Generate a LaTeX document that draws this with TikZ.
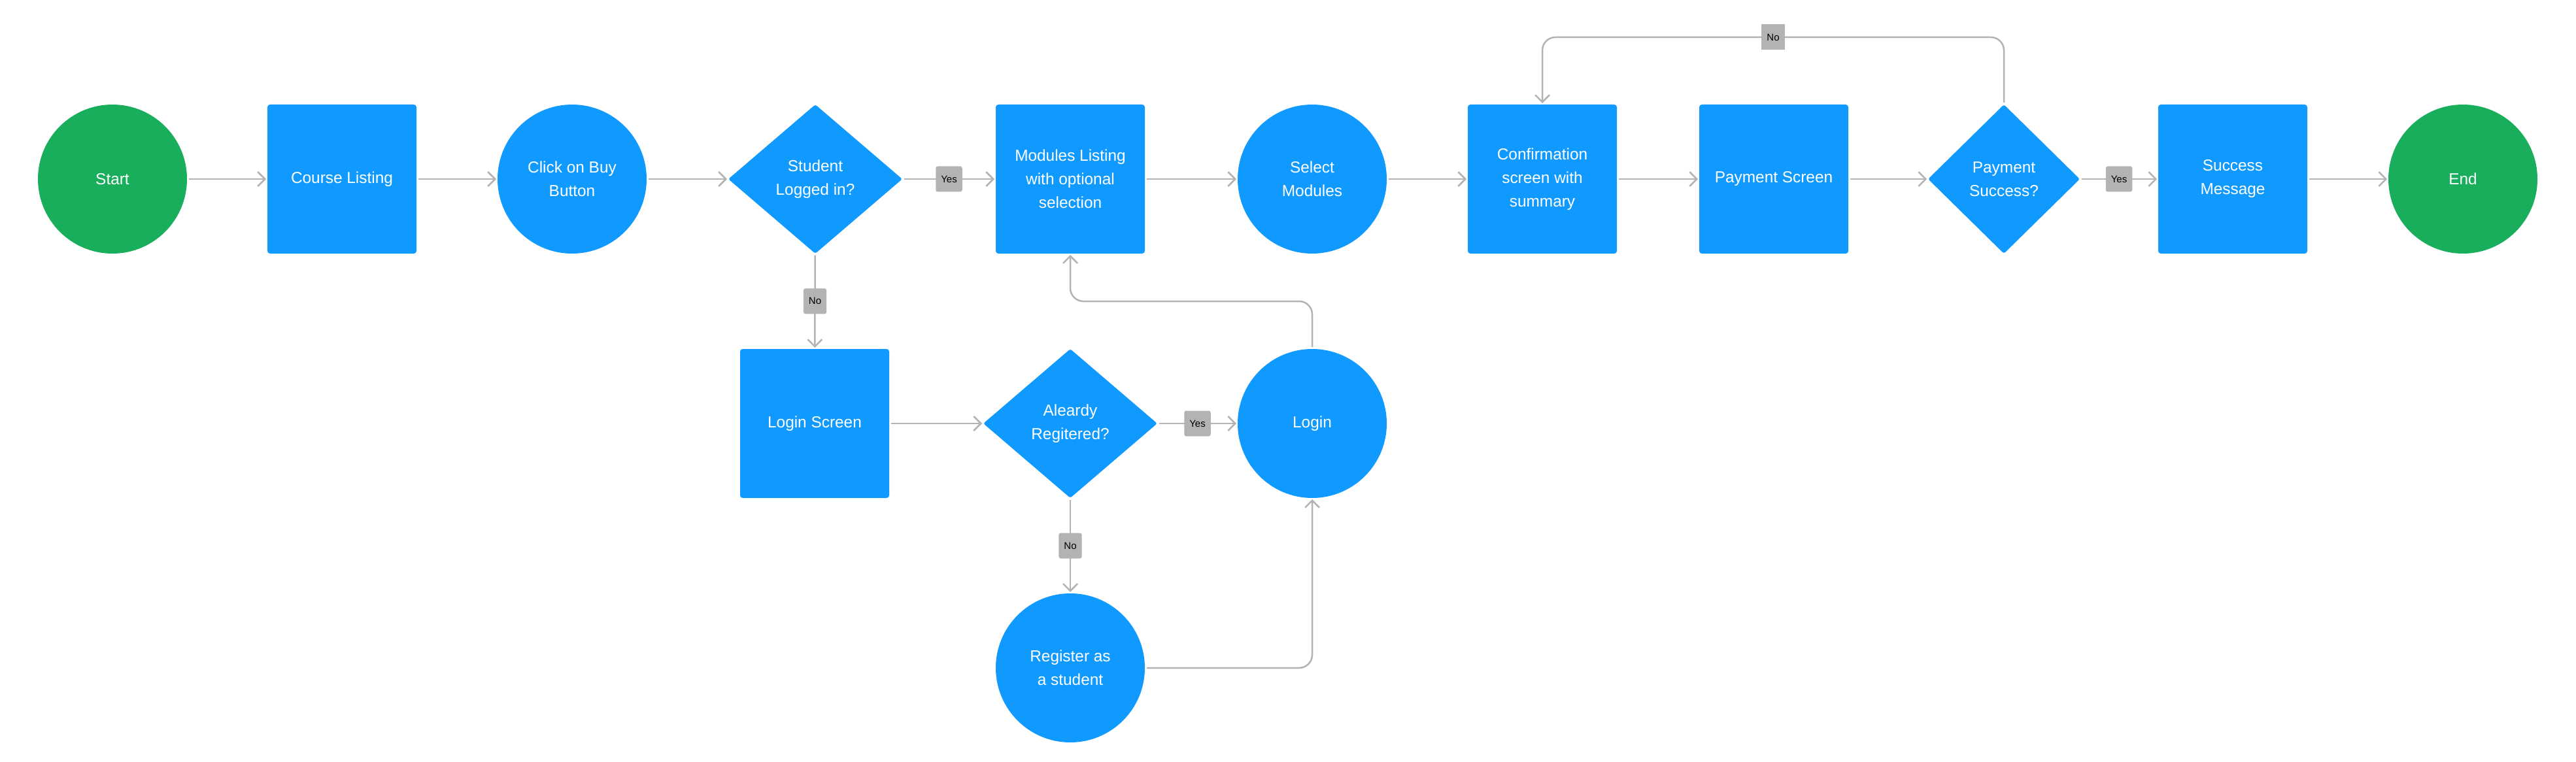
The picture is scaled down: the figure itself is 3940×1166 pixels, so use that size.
\documentclass[tikz,border=0pt]{standalone}
\usepackage{fontspec}
\setmainfont{Liberation Sans}
\usetikzlibrary{shapes.geometric,arrows.meta}
\definecolor{fblue}{RGB}{16,154,255}
\definecolor{fgreen}{RGB}{24,174,92}
\definecolor{fline}{RGB}{179,179,179}
\definecolor{flabel}{RGB}{179,179,179}
\begin{document}
\begin{tikzpicture}[x=1pt,y=-1pt,
 base/.style={text=white, font=\fontsize{24.4}{36}\selectfont, align=center, inner sep=0pt, outer sep=0pt},
 circ/.style={base, circle, minimum size=228pt},
 term/.style={circ, fill=fgreen},
 proc/.style={circ, fill=fblue},
 box/.style={base, rectangle, rounded corners=4pt, minimum width=228pt, minimum height=228pt, fill=fblue},
 dec/.style={base, diamond, rounded corners=3pt, minimum width=266pt, minimum height=228pt, fill=fblue},
 conn/.style={draw=fline, line width=2.5pt, -{Straight Barb[length=11pt,width=22pt]}, shorten >=2pt, shorten <=3pt},
 tag/.style={fill=flabel, text=black, font=\fontsize{15}{18}\selectfont, rounded corners=3pt, minimum height=39pt, inner xsep=8pt, inner ysep=0pt}
]
\useasboundingbox (0,0) rectangle (3940,1166);
\node[term] (start) at (172,274) {Start};
\node[box] (course) at (523,274) {Course Listing};
\node[proc] (buy) at (875,274) {Click on Buy\\Button};
\node[dec] (logged) at (1247,274) {Student\\Logged in?};
\node[box] (modules) at (1637,274) {Modules Listing\\with optional\\selection};
\node[proc] (select) at (2007,274) {Select\\Modules};
\node[box] (confirm) at (2359,274) {Confirmation\\screen with\\summary};
\node[box] (payscr) at (2713,274) {Payment Screen};
\node[dec, minimum width=232pt] (paysucc) at (3065,274) {Payment\\Success?};
\node[box] (success) at (3415,274) {Success\\Message};
\node[term] (end) at (3767,274) {End};
\node[box] (loginscr) at (1246,648) {Login Screen};
\node[dec] (registered) at (1637,648) {Aleardy\\Regitered?};
\node[proc] (login) at (2007,648) {Login};
\node[proc] (register) at (1637,1022) {Register as\\a student};

\coordinate (k1) at (1637,461);
\coordinate (ta) at (3065,57);
\coordinate (tb) at (2359,57);

\draw[conn] (start) -- (course);
\draw[conn] (course) -- (buy);
\draw[conn] (buy) -- (logged);
\draw[conn] (logged) -- node[tag]{Yes} (modules);
\draw[conn] (modules) -- (select);
\draw[conn] (select) -- (confirm);
\draw[conn] (confirm) -- (payscr);
\draw[conn] (payscr) -- (paysucc);
\draw[conn] (paysucc) -- node[tag]{Yes} (success);
\draw[conn] (success) -- (end);
\draw[conn] (logged) -- node[tag]{No} (loginscr);
\draw[conn] (loginscr) -- (registered);
\draw[conn] (registered) -- node[tag]{Yes} (login);
\draw[conn] (registered) -- node[tag]{No} (register);
\draw[conn, rounded corners=20pt] (login.north) |- (k1) -- (modules.south);
\draw[conn, rounded corners=20pt] (register.east) -| (login.south);
\draw[conn, rounded corners=20pt] (paysucc.north) -- (ta) -- node[tag, sharp corners]{No} (tb) -- (confirm.north);
\end{tikzpicture}
\end{document}
